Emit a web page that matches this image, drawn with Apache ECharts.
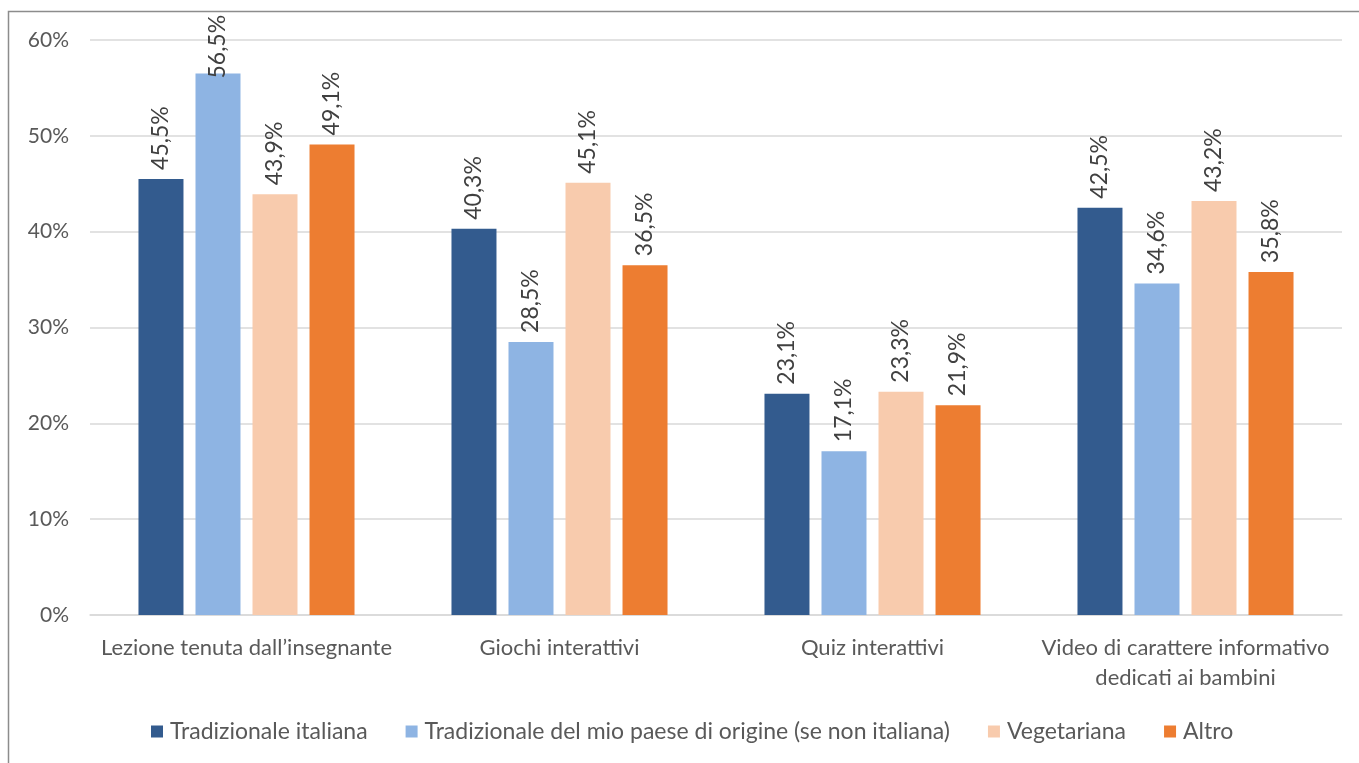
<!DOCTYPE html>
<html><head><meta charset="utf-8">
<script src="https://cdn.jsdelivr.net/npm/echarts@6/dist/echarts.min.js"></script>
<style>html,body{margin:0;padding:0;background:#fff}#c{width:1359px;height:763px}</style>
</head><body><div id="c"></div>
<script>
const categories = ["Lezione tenuta dall’insegnante", "Giochi interattivi", "Quiz interattivi", "Video di carattere informativo\ndedicati ai bambini"];
const seriesNames = ["Tradizionale italiana", "Tradizionale del mio paese di origine (se non italiana)", "Vegetariana", "Altro"];
const tradItaliana = [45.5, 40.3, 23.1, 42.5];
const tradOrigine = [56.5, 28.5, 17.1, 34.6];
const vegetariana = [43.9, 45.1, 23.3, 43.2];
const altro = [49.1, 36.5, 21.9, 35.8];
const colors = ["#335B8E", "#8EB4E3", "#F8CBAD", "#ED7D31"];
const allValues = [tradItaliana, tradOrigine, vegetariana, altro];

const font = "Lato, 'Open Sans', sans-serif";
const chart = echarts.init(document.getElementById('c'));
chart.setOption({
  animation: false,
  graphic: [{type:'rect', shape:{x:8.5,y:11.5,width:1400,height:800}, style:{fill:'none', stroke:'#8c8c8c', lineWidth:1.5}, silent:true}],
  grid: {left: 90, right: 17, top: 40, bottom: 148},
  legend: {
    top: 715, left: 146, itemWidth: 12, itemHeight: 12, itemGap: 38,
    icon: 'rect',
    textStyle: {fontFamily: font, fontSize: 23, color: '#595959', padding:[0,0,0,2]},
    data: seriesNames
  },
  xAxis: {
    type: 'category', data: categories,
    axisLine: {lineStyle: {color: '#d9d9d9', width: 1.5}},
    axisTick: {show: false},
    axisLabel: {fontFamily: font, fontSize: 22, color: '#595959', margin: 18, lineHeight: 30, interval: 0}
  },
  yAxis: {
    type: 'value', min: 0, max: 60, interval: 10,
    axisLabel: {formatter: '{value}%', fontFamily: font, fontSize: 21, color: '#595959', margin: 21},
    splitLine: {lineStyle: {color: '#d9d9d9', width: 1.5}},
    axisLine: {show: false}, axisTick: {show: false}
  },
  series: allValues.map((vals, i) => ({
    name: seriesNames[i], type: 'bar',
    // labels that would run off the top of the chart are pushed down (as in the original)
    data: vals.map(v => v > 52 ? {value: v, label: {distance: -5}} : v),
    barWidth: 45, barGap: '26.7%',
    itemStyle: {color: colors[i]},
    label: {
      show: true, position: 'top', rotate: 90, align: 'left', verticalAlign: 'middle',
      distance: 9,
      formatter: p => p.value.toFixed(1).replace('.', ',') + '%',
      fontFamily: font, fontSize: 23, color: '#404040'
    }
  }))
});
</script></body></html>
